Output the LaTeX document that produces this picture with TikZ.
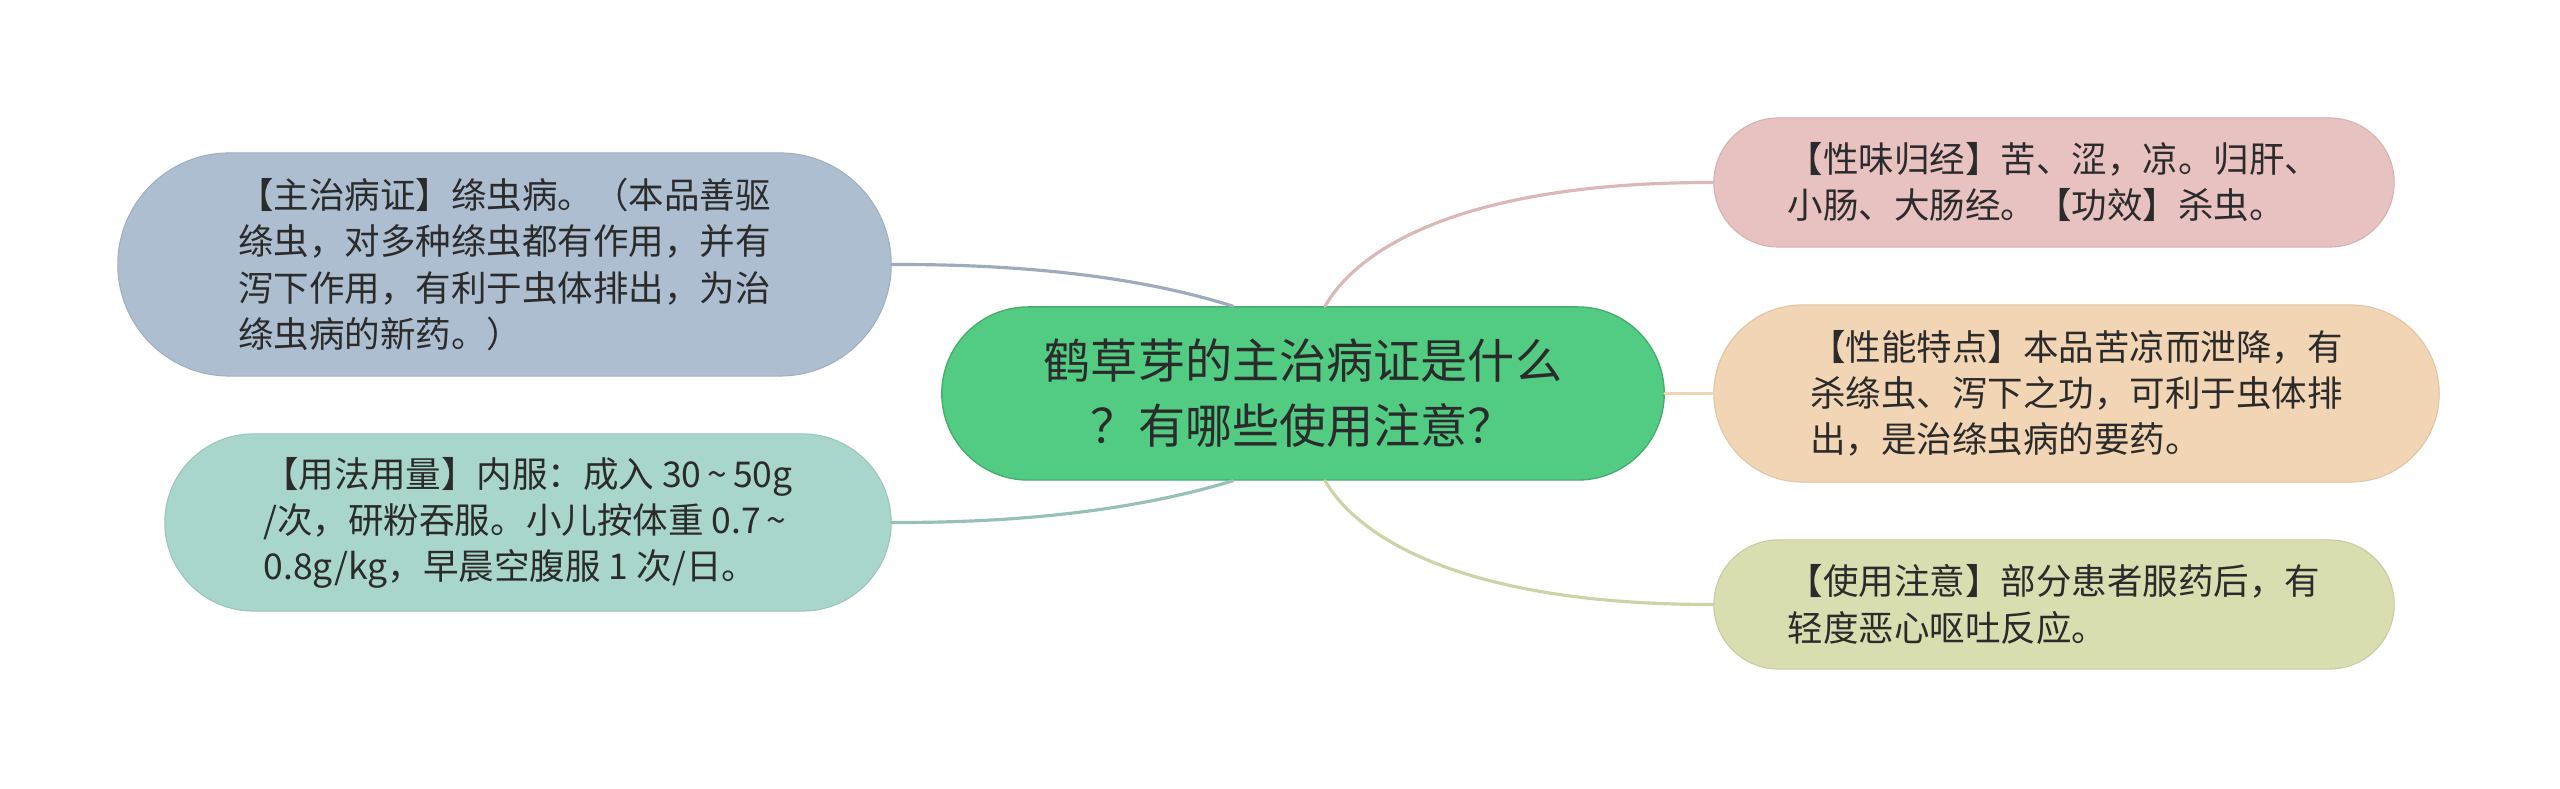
\documentclass[tikz,border=0pt]{standalone}
\usepackage{fontspec}
\setmainfont{Noto Sans CJK SC}
\usepackage{tikz}
\usetikzlibrary{positioning, calc}
\definecolor{rootgreen}{HTML}{52CC83}
\definecolor{slateblue}{HTML}{AEBED1}
\definecolor{mintteal}{HTML}{A8D6CC}
\definecolor{rosepink}{HTML}{E8C1C1}
\definecolor{peachtan}{HTML}{F2D5B4}
\definecolor{olivecream}{HTML}{DADDB0}
\definecolor{txtdark}{HTML}{2B2B2B}

\begin{document}
\begin{tikzpicture}[x=0.01cm, y=-0.01cm,
  pill/.style={rectangle, inner sep=0pt, align=left, text=txtdark,
    font=\fontsize{10.1}{13.1}\selectfont},
  link/.style={line width=0.9pt, line cap=round}]
  % Canvas
  \useasboundingbox (0,0) rectangle (2560,789);
  \fill[white] (0,0) rectangle (2560,789);

  % Central topic
  \node[pill, fill=rootgreen, draw=rootgreen!85!black, line width=0.4pt, align=center,
    minimum width=7.22cm, minimum height=1.73cm, rounded corners=0.865cm,
    font=\fontsize{13.4}{18.5}\selectfont] (root) at (1303,393.5)
    {鹤草芽的主治病证是什么\\？有哪些使用注意？};

  % Left branches
  \node[pill, fill=slateblue, draw=slateblue!92!black, line width=0.3pt,
    minimum width=7.73cm, minimum height=2.23cm, rounded corners=1.115cm] (zhizhi) at (504.5,264.5)
    {【主治病证】绦虫病。（本品善驱\\绦虫，对多种绦虫都有作用，并有\\泻下作用，有利于虫体排出，为治\\绦虫病的新药。）};
  \node[pill, fill=mintteal, draw=mintteal!92!black, line width=0.3pt,
    minimum width=7.26cm, minimum height=1.77cm, rounded corners=0.885cm] (yongfa) at (528,522.5)
    {【用法用量】内服：成入 30\,\textasciitilde\,50g\\/次，研粉吞服。小儿按体重 0.7\,\textasciitilde\\0.8g/kg，早晨空腹服 1 次/日。};

  % Right branches
  \node[pill, fill=rosepink, draw=rosepink!92!black, line width=0.3pt,
    minimum width=6.80cm, minimum height=1.29cm, rounded corners=0.645cm] (xingwei) at (2054,182.5)
    {【性味归经】苦、涩，凉。归肝、\\小肠、大肠经。【功效】杀虫。};
  \node[pill, fill=peachtan, draw=peachtan!92!black, line width=0.3pt,
    minimum width=7.25cm, minimum height=1.77cm, rounded corners=0.885cm] (xingneng) at (2076.5,393.5)
    {【性能特点】本品苦凉而泄降，有\\杀绦虫、泻下之功，可利于虫体排\\出，是治绦虫病的要药。};
  \node[pill, fill=olivecream, draw=olivecream!92!black, line width=0.3pt,
    minimum width=6.80cm, minimum height=1.29cm, rounded corners=0.645cm] (zhuyi) at (2054,604.5)
    {【使用注意】部分患者服药后，有\\轻度恶心呕吐反应。};

  % Connectors
  \draw[link, slateblue!90!black] (zhizhi.east) .. controls (1040,264) and (1150,280) .. ([xshift=-0.7cm]root.north);
  \draw[link, mintteal!90!black] (yongfa.east) .. controls (1040,523) and (1150,506) .. ([xshift=-0.7cm]root.south);
  \draw[link, rosepink!95!black] ([xshift=0.22cm]root.north) .. controls (1360,245) and (1470,182) .. (xingwei.west);
  \draw[link, peachtan] (root.east) -- (xingneng.west);
  \draw[link, olivecream!95!black] ([xshift=0.22cm]root.south) .. controls (1360,541) and (1470,605) .. (zhuyi.west);
\end{tikzpicture}
\end{document}
